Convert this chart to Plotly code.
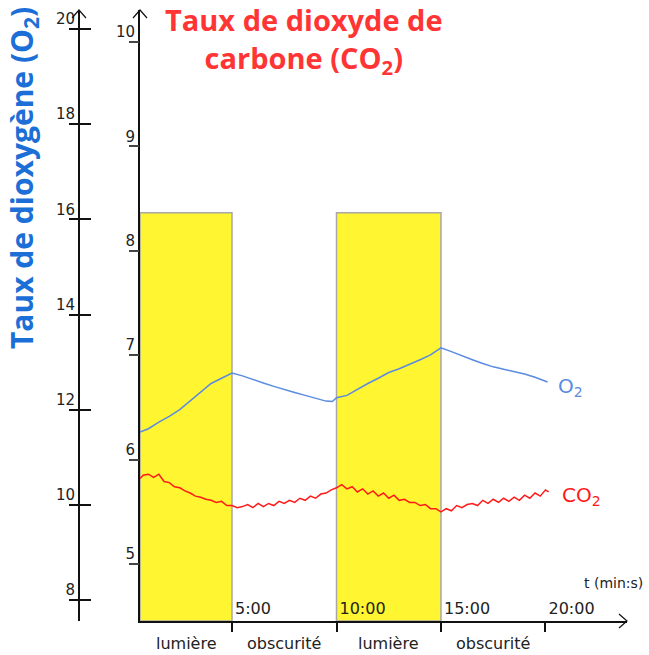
import plotly.graph_objects as go

# ---------------- data ----------------
time_min = [0.6, 0.75, 1.0, 1.25, 1.5, 1.75, 2.0, 2.25, 2.5, 2.75, 3.0, 3.25, 3.5, 3.75,
            4.0, 4.25, 4.5, 4.75, 5.0, 5.25, 5.5, 5.75, 6.0, 6.25, 6.5, 6.75, 7.0, 7.25,
            7.5, 7.75, 8.0, 8.25, 8.5, 8.75, 9.0, 9.25, 9.5, 9.75, 10.0, 10.25, 10.5,
            10.75, 11.0, 11.25, 11.5, 11.75, 12.0, 12.25, 12.5, 12.75, 13.0, 13.25, 13.5,
            13.75, 14.0, 14.25, 14.5, 14.75, 15.0, 15.25, 15.5, 15.75, 16.0, 16.25, 16.5,
            16.75, 17.0, 17.25, 17.5, 17.75, 18.0, 18.25, 18.5, 18.75, 19.0, 19.25, 19.5,
            19.75, 20.0, 20.15]

co2_values = [5.82, 5.85, 5.86, 5.83, 5.86, 5.79, 5.78, 5.74, 5.73, 5.70, 5.68, 5.65, 5.64, 5.62,
              5.61, 5.59, 5.60, 5.56, 5.56, 5.54, 5.55, 5.57, 5.54, 5.58, 5.55, 5.58, 5.56, 5.60,
              5.58, 5.61, 5.59, 5.63, 5.61, 5.65, 5.63, 5.67, 5.68, 5.71, 5.73, 5.76, 5.72,
              5.74, 5.69, 5.72, 5.67, 5.70, 5.65, 5.68, 5.63, 5.66, 5.61, 5.62, 5.59,
              5.59, 5.56, 5.57, 5.53, 5.53, 5.50, 5.53, 5.51, 5.56, 5.54, 5.57, 5.58,
              5.56, 5.61, 5.58, 5.62, 5.59, 5.63, 5.60, 5.64, 5.61, 5.66, 5.63, 5.68,
              5.65, 5.71, 5.69]

o2_time = [0.6, 1.0, 1.5, 2.0, 2.5, 3.0, 3.5, 4.0, 4.5, 5.0, 5.5, 6.0, 6.5, 7.0, 7.5, 8.0,
           8.5, 9.0, 9.5, 9.8, 10.0, 10.5, 11.0, 11.5, 12.0, 12.5, 13.0, 13.5, 14.0, 14.5,
           15.0, 15.5, 16.0, 16.5, 17.0, 17.5, 18.0, 18.5, 19.0, 19.5, 20.1]
o2_values = [11.53, 11.60, 11.74, 11.86, 12.00, 12.18, 12.36, 12.55, 12.66, 12.77, 12.71, 12.63,
             12.56, 12.49, 12.42, 12.36, 12.30, 12.24, 12.18, 12.17, 12.25, 12.30, 12.43, 12.55,
             12.66, 12.78, 12.86, 12.95, 13.05, 13.15, 13.30, 13.22, 13.13, 13.05, 12.97, 12.90,
             12.85, 12.80, 12.75, 12.68, 12.58]

periods = [(0, 5, "lumière"), (5, 10, "obscurité"), (10, 15, "lumière"), (15, 20, "obscurité")]
time_ticks = [5, 10, 15, 20]
time_tick_text = ["5:00", "10:00", "15:00", "20:00"]
co2_ticks = [5, 6, 7, 8, 9, 10]
o2_ticks = [8, 10, 12, 14, 16, 18, 20]
light_height = 0.668  # fraction of plot height reached by the light bands

# ---------------- layout geometry ----------------
W, H = 649, 655
X_RANGE = [0.598, 23.90]
CO2_RANGE = [4.454, 10.307]
O2_RANGE = [7.559, 20.399]
x_dom = [140 / W, 627 / W]
y_dom = [(H - 621) / H, (H - 10) / H]
o2_pos = 79 / W

TICK_FONT = dict(family="DejaVu Sans", size=15, color="#222")
BLUE_T = "#1B6FD6"
RED_T = "#FF3535"
BLUE_L = "#5A8BE0"
RED_L = "#FF1A1A"

fig = go.Figure()

fig.add_trace(go.Scatter(x=o2_time, y=o2_values, mode="lines", yaxis="y3",
                         line=dict(color=BLUE_L, width=1.5), showlegend=False, hoverinfo="skip"))
fig.add_trace(go.Scatter(x=time_min, y=co2_values, mode="lines", yaxis="y",
                         line=dict(color=RED_L, width=1.5), showlegend=False, hoverinfo="skip"))
for ax in ["y2", "y4", "y5"]:
    fig.add_trace(go.Scatter(x=[None], y=[None], yaxis=ax, mode="lines",
                             showlegend=False, hoverinfo="skip"))
fig.add_trace(go.Scatter(x=[None], y=[None], xaxis="x2", yaxis="y", mode="lines",
                         showlegend=False, hoverinfo="skip"))

# light bands
for start, end, name in periods:
    if name == "lumière":
        fig.add_shape(type="rect", xref="x", yref="y domain", x0=max(start, X_RANGE[0]), x1=end,
                      y0=0, y1=light_height, fillcolor="#FFF531",
                      line=dict(color="#A8A8A8", width=1.5), layer="below")

# period labels under the axis
for start, end, name in periods:
    s = max(start, X_RANGE[0])
    fig.add_annotation(x=(s + end) / 2, xref="x", y=0, yref="y domain", yshift=-22,
                       text=name, showarrow=False, font=dict(family="DejaVu Sans", size=16, color="#222"),
                       xanchor="center", yanchor="middle")

fig.add_annotation(x=1, xref="x domain", y=0, yref="y domain", xshift=18, yshift=38,
                   text="t (min:s)", showarrow=False, xanchor="right", yanchor="middle",
                   font=dict(family="DejaVu Sans", size=14, color="#222"))

# curve labels
fig.add_annotation(x=o2_time[-1], xref="x", y=o2_values[-1], yref="y3", xshift=8, yshift=-5,
                   text="O<sub>2</sub>", showarrow=False, xanchor="left", yanchor="middle",
                   font=dict(family="DejaVu Sans", size=20, color=BLUE_L))
fig.add_annotation(x=time_min[-1], xref="x", y=co2_values[-1], yref="y", xshift=11, yshift=-4,
                   text="CO<sub>2</sub>", showarrow=False, xanchor="left", yanchor="middle",
                   font=dict(family="DejaVu Sans", size=20, color=RED_L))

# titles
fig.add_annotation(x=23 / W, xref="paper", y=(H - 178) / H, yref="paper", textangle=-90,
                   text="<b>Taux de dioxygène (O<sub>2</sub>)</b>", showarrow=False,
                   font=dict(family="Open Sans", size=30, color=BLUE_T), xanchor="center", yanchor="middle")
fig.add_annotation(x=304 / W, xref="paper", y=(H - 41) / H, yref="paper",
                   text="<b>Taux de dioxyde de<br>carbone (CO<sub>2</sub>)</b>", showarrow=False,
                   font=dict(family="Open Sans", size=29, color=RED_T), xanchor="center", yanchor="middle",
                   align="center")

# arrow heads
chev_up = "M -7,-8 L 0,0 L 7,-8"
fig.add_shape(type="path", xref="paper", yref="paper", xsizemode="pixel", ysizemode="pixel",
              xanchor=o2_pos, yanchor=y_dom[1], path=chev_up, line=dict(color="#111", width=1.2))
fig.add_shape(type="path", xref="paper", yref="paper", xsizemode="pixel", ysizemode="pixel",
              xanchor=x_dom[0], yanchor=y_dom[1], path=chev_up, line=dict(color="#111", width=1.2))
fig.add_shape(type="path", xref="paper", yref="paper", xsizemode="pixel", ysizemode="pixel",
              xanchor=x_dom[1], yanchor=y_dom[0], path="M -8,-7 L 0,0 L -8,7", line=dict(color="#111", width=1.2))

common_y = dict(showgrid=False, zeroline=False, fixedrange=True, automargin=False)
o2_tick_mode = dict(tickmode="array", tickvals=o2_ticks)

fig.update_layout(
    width=W, height=H, margin=dict(l=0, r=0, t=0, b=0),
    paper_bgcolor="white", plot_bgcolor="rgba(0,0,0,0)",
    xaxis=dict(domain=x_dom, range=X_RANGE, showgrid=False, zeroline=False, automargin=False,
               showline=True, linecolor="#111", linewidth=2,
               tickvals=time_ticks, ticks="outside", ticklen=9,
               tickwidth=1.5, tickcolor="#111", showticklabels=False, fixedrange=True),
    xaxis2=dict(domain=x_dom, range=X_RANGE, overlaying="x", anchor="free", position=y_dom[0],
                side="top", showgrid=False, zeroline=False, automargin=False, showline=False,
                ticks="", tickvals=time_ticks, ticktext=time_tick_text,
                ticklabelposition="outside right", ticklabelstandoff=4, ticklabelshift=3,
                fixedrange=True, tickfont=dict(family="DejaVu Sans", size=16, color="#222")),
    yaxis=dict(domain=y_dom, range=CO2_RANGE, anchor="x", side="left", showline=True,
               linecolor="#111", linewidth=2, ticks="", tickvals=co2_ticks,
               ticklabelshift=-10, tickfont=TICK_FONT, **common_y),
    yaxis2=dict(range=CO2_RANGE, overlaying="y", anchor="x", side="left", showline=False,
                ticks="outside", ticklen=10, tickwidth=1.5, tickcolor="#444", tickvals=co2_ticks,
                showticklabels=False, **common_y),
    yaxis3=dict(range=O2_RANGE, overlaying="y", anchor="free", position=o2_pos, side="left",
                showline=True, linecolor="#111", linewidth=2, ticks="",
                ticklabelshift=-10, tickfont=TICK_FONT, **o2_tick_mode, **common_y),
    yaxis4=dict(range=O2_RANGE, overlaying="y", anchor="free", position=o2_pos, side="left",
                showline=False, ticks="outside", ticklen=10, tickwidth=1.5, tickcolor="#111",
                showticklabels=False, **o2_tick_mode, **common_y),
    yaxis5=dict(range=O2_RANGE, overlaying="y", anchor="free", position=o2_pos, side="left",
                showline=False, ticks="inside", ticklen=11, tickwidth=1.5, tickcolor="#111",
                showticklabels=False, **o2_tick_mode, **common_y),
)

fig.write_html("out.html", config={"displayModeBar": False},
               post_script="document.body.style.margin='0px';")
